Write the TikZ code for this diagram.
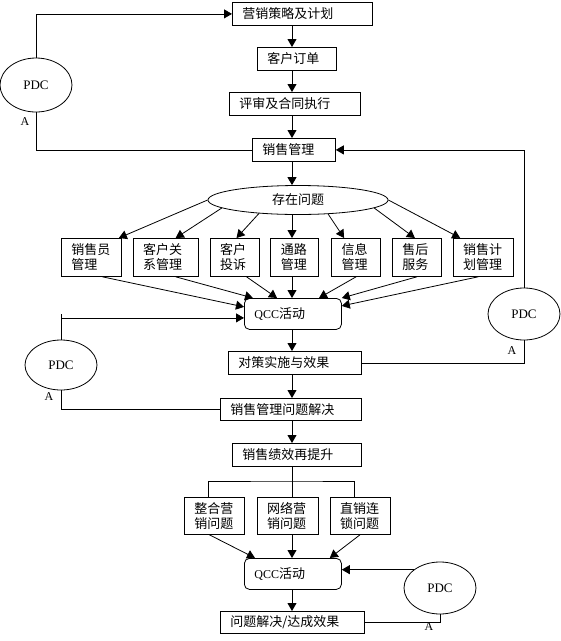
\documentclass[tikz,border=0pt]{standalone}
\usepackage{fontspec}
\setmainfont{Liberation Serif}
\newfontfamily\cjk{Noto Sans CJK SC}
\usetikzlibrary{positioning, shapes.geometric, arrows.meta}

\begin{document}
\begin{tikzpicture}[
    x=1pt, y=-1pt, line width=0.8pt,
    font=\cjk\fontsize{13}{15}\selectfont,
    box/.style={draw, rectangle, anchor=north west, align=left, inner xsep=10pt, inner ysep=0pt, minimum height=23pt, text width=#1},
    tall/.style={box=#1, minimum height=38pt},
    qccbox/.style={draw, rectangle, rounded corners=5pt, anchor=north west, align=left, inner xsep=10pt, inner ysep=0pt, minimum height=31pt, text width=77pt},
    pdc/.style={draw, ellipse, minimum width=72pt, minimum height=52pt, inner sep=0pt, font=\rmfamily\fontsize{13}{15}\selectfont},
    lbl/.style={inner sep=0pt, font=\rmfamily\fontsize{12}{14}\selectfont},
    arrow/.style={-{Triangle[length=8pt,width=9pt]}}
]
\useasboundingbox (0,0) rectangle (561,641);
\coordinate (axis) at (292,0);

% main chain
\node[box=120pt] (plan) at (232,2) {营销策略及计划};
\node[box=59pt] (order) at (257,47) {客户订单};
\node[box=111pt] (review) at (229,92) {评审及合同执行};
\node[box=63pt] (sales) at (252,138) {销售管理};
\node[draw, ellipse, minimum width=180pt, minimum height=29pt, inner sep=0pt] (issue) at (298,200) {存在问题};

% problem boxes
\node[tall=40pt] (staff) at (61,238) {销售员\\管理};
\node[tall=45pt, right=11pt of staff] (crm) {客户关\\系管理};
\node[tall=29pt, right=11pt of crm] (complaint) {客户\\投诉};
\node[tall=28pt, right=11pt of complaint] (channel) {通路\\管理};
\node[tall=29pt, right=12pt of channel] (info) {信息\\管理};
\node[tall=29pt, right=11pt of info] (service) {售后\\服务};
\node[tall=40pt, right=11pt of service] (splan) {销售计\\划管理};

\node[qccbox] (qcc) at (244,298) {{\rmfamily\fontsize{12}{14}\selectfont QCC}活动};
\node[box=113pt] (measure) at (228,351) {对策实施与效果};
\node[box=121pt, minimum height=22pt] (solved) at (220,398) {销售管理问题解决};
\node[box=109pt] (boost) at (232,443) {销售绩效再提升};

\node[tall=40pt, minimum height=37pt] (merge) at (184,497) {整合营\\销问题};
\node[tall=41pt, minimum height=37pt, right=12pt of merge] (net) {网络营\\销问题};
\node[tall=40pt, minimum height=37pt, right=11pt of net] (chain) {直销连\\锁问题};
\node[qccbox] (qcc2) at (244,558) {{\rmfamily\fontsize{12}{14}\selectfont QCC}活动};
\node[box=124pt, minimum height=22pt] (result) at (220,611) {问题解决/达成效果};

% PDCA loops
\node[pdc, minimum height=54pt] (pdcA) at (36,85) {PDC};
\node[pdc] (pdcB) at (524,314) {PDC};
\node[pdc, minimum height=50pt] (pdcC) at (61,365) {PDC};
\node[pdc] (pdcD) at (440,588) {PDC};
\node[lbl] (aA) at (25,122) {A};
\node[lbl] (aB) at (512,351) {A};
\node[lbl] (aC) at (49,397) {A};
\node[lbl] (aD) at (429,627) {A};

\draw[arrow] (plan.south -| axis) -- (order.north -| axis);
\draw[arrow] (order.south -| axis) -- (review.north -| axis);
\draw[arrow] (review.south -| axis) -- (sales.north -| axis);
\draw[arrow] (sales.south -| axis) -- (issue.north -| axis);

\draw[arrow] (issue.west) -- ([xshift=-3pt]staff.north east);
\draw[arrow] (issue.186) -- ([xshift=10pt]crm.north);
\draw[arrow] (issue.199) -- ([xshift=2pt]complaint.north);
\draw[arrow] (issue.south -| axis) -- (channel.north -| axis);
\draw[arrow] (issue.335) -- ([xshift=-12pt]info.north);
\draw[arrow] (issue.354) -- ([xshift=-2pt]service.north);
\draw[arrow] (issue.east) -- ([xshift=-23pt]splan.north);

\draw[arrow] ([xshift=11pt]staff.south) -- ([yshift=7pt]qcc.west);
\draw[arrow] ([xshift=10pt]crm.south) -- ([xshift=9pt]qcc.north west);
\draw[arrow] ([xshift=12pt]complaint.south) -- ([xshift=33pt]qcc.north west);
\draw[arrow] (channel.south -| axis) -- (qcc.north -| axis);
\draw[arrow] (info.south) -- ([xshift=75pt]qcc.north west);
\draw[arrow] (service.south) -- (qcc.north east);
\draw[arrow] ([xshift=-5pt]splan.south) -- ([yshift=8pt]qcc.east);

\draw[arrow] (qcc.south -| axis) -- (measure.north -| axis);
\draw[arrow] (measure.south -| axis) -- (solved.north -| axis);
\draw[arrow] (solved.south -| axis) -- (boost.north -| axis);

\coordinate (fork) at (292,481);
\draw (boost.south -| axis) -- (net.north -| axis);
\draw ([xshift=-6pt]merge.north) |- (fork) -| ([xshift=-6pt]chain.north);
\draw[arrow] ([xshift=-5pt]merge.south) -- ([xshift=11pt]qcc2.north west);
\draw[arrow] (net.south -| axis) -- (qcc2.north -| axis);
\draw[arrow] (chain.south) -- ([xshift=-12pt]qcc2.north east);
\draw[arrow] (qcc2.south -| axis) -- (result.north -| axis);

\draw[arrow] (pdcA.north) |- (plan.west);
\draw (pdcA.south) |- (sales.west);
\draw[arrow] (pdcB.north) |- (sales.east);
\draw (pdcB.south) |- (measure.east);
\draw (pdcC.north) -- (pdcC.north |- qcc.west);
\draw[arrow] ([yshift=-4pt]qcc.west -| pdcC.north) -- ([yshift=-4pt]qcc.west);
\draw (pdcC.south) |- (solved.west);
\draw[arrow] (pdcD.145) -- (pdcD.145 -| qcc2.east);
\draw (pdcD.south) |- (result.east);
\end{tikzpicture}
\end{document}
